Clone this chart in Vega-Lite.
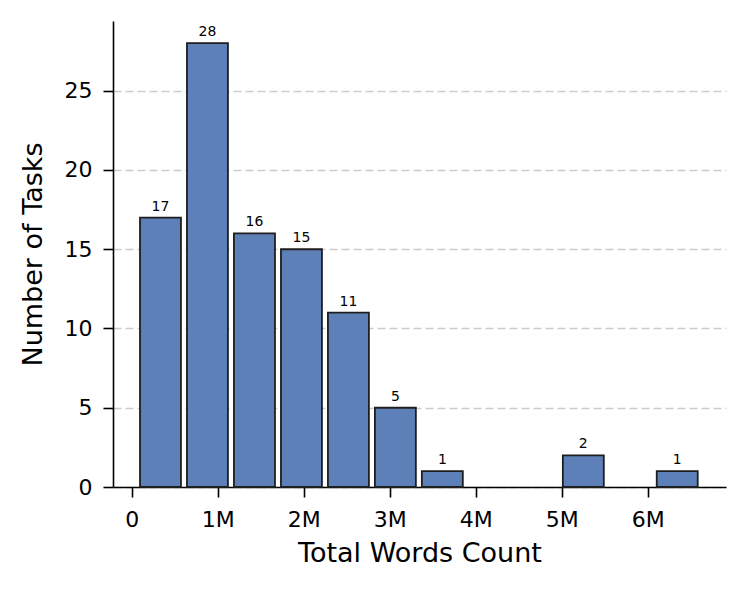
{
  "$schema": "https://vega.github.io/schema/vega-lite/v6.json",
  "width": 613,
  "height": 466,
  "autosize": "none",
  "padding": {"left": 113, "top": 21, "right": 21, "bottom": 106},
  "background": "white",
  "config": {
    "view": {"stroke": null},
    "font": "DejaVu Sans"
  },
  "data": {
    "values": [
      {"bin_start": 62000, "bin_mid": 335000, "bin_end": 608000, "count": 17},
      {"bin_start": 608000, "bin_mid": 881000, "bin_end": 1154000, "count": 28},
      {"bin_start": 1154000, "bin_mid": 1427500, "bin_end": 1701000, "count": 16},
      {"bin_start": 1701000, "bin_mid": 1974000, "bin_end": 2247000, "count": 15},
      {"bin_start": 2247000, "bin_mid": 2520000, "bin_end": 2793000, "count": 11},
      {"bin_start": 2793000, "bin_mid": 3066000, "bin_end": 3339000, "count": 5},
      {"bin_start": 3339000, "bin_mid": 3612000, "bin_end": 3885000, "count": 1},
      {"bin_start": 4978000, "bin_mid": 5251000, "bin_end": 5524000, "count": 2},
      {"bin_start": 6070000, "bin_mid": 6343000, "bin_end": 6616000, "count": 1}
    ]
  },
  "layer": [
    {
      "mark": {
        "type": "bar",
        "color": "#5E80B8",
        "stroke": "#1e1e1e",
        "strokeWidth": 1.8,
        "xOffset": 3,
        "x2Offset": -3
      },
      "encoding": {
        "x": {
          "field": "bin_start",
          "type": "quantitative",
          "scale": {"domain": [-217000, 6910000], "nice": false, "zero": false},
          "axis": {
            "title": "Total Words Count",
            "values": [0, 1000000, 2000000, 3000000, 4000000, 5000000, 6000000],
            "labelExpr": "datum.value == 0 ? '0' : (datum.value / 1000000) + 'M'",
            "grid": false,
            "domainColor": "black",
            "domainWidth": 1.6,
            "tickColor": "black",
            "tickWidth": 1.6,
            "tickSize": 10,
            "labelFontSize": 22,
            "labelColor": "black",
            "labelPadding": 12,
            "titleFontSize": 27,
            "titleFontWeight": "normal",
            "titleColor": "black",
            "titlePadding": 10
          }
        },
        "x2": {"field": "bin_end"},
        "y": {
          "field": "count",
          "type": "quantitative",
          "scale": {"domain": [0, 29.4], "nice": false},
          "axis": {
            "title": "Number of Tasks",
            "values": [0, 5, 10, 15, 20, 25],
            "grid": true,
            "gridColor": "#cccccc",
            "gridDash": [8, 4],
            "gridWidth": 1.6,
            "domainColor": "black",
            "domainWidth": 1.6,
            "tickColor": "black",
            "tickWidth": 1.6,
            "tickSize": 10,
            "labelFontSize": 22,
            "labelColor": "black",
            "labelPadding": 11,
            "titleFontSize": 27,
            "titleFontWeight": "normal",
            "titleColor": "black",
            "titlePadding": 17
          }
        },
        "y2": {"datum": 0}
      }
    },
    {
      "mark": {
        "type": "text",
        "baseline": "alphabetic",
        "dy": -7,
        "fontSize": 14,
        "color": "black"
      },
      "encoding": {
        "x": {"field": "bin_mid", "type": "quantitative"},
        "y": {"field": "count", "type": "quantitative"},
        "text": {"field": "count", "type": "quantitative"}
      }
    }
  ]
}
